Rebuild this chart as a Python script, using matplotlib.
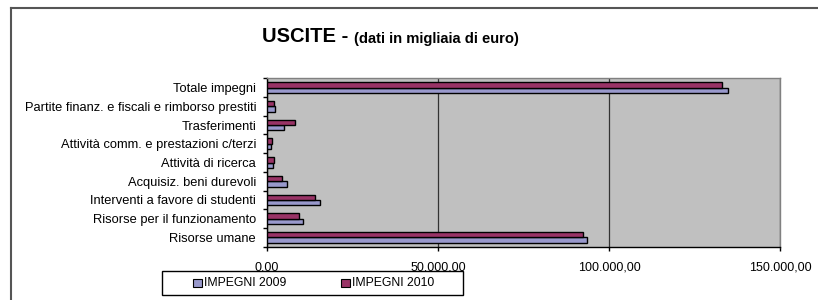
import matplotlib
matplotlib.use("Agg")
import matplotlib.pyplot as plt
from matplotlib.lines import Line2D
from matplotlib.patches import Rectangle
from matplotlib.ticker import FuncFormatter, FixedLocator
import numpy as np

plt.rcParams['font.family'] = ['Liberation Sans', 'DejaVu Sans']

categories = [
    "Risorse umane",
    "Risorse per il funzionamento",
    "Interventi a favore di studenti",
    "Acquisiz. beni durevoli",
    "Attività di ricerca",
    "Attività comm. e prestazioni c/terzi",
    "Trasferimenti",
    "Partite finanz. e fiscali e rimborso prestiti",
    "Totale impegni",
]
impegni_2009 = [93400, 10500, 15500, 5800, 1800, 1400, 5100, 2500, 134700]
impegni_2010 = [92400, 9400, 14000, 4400, 2000, 1500, 8400, 2100, 133000]
series_labels = ["IMPEGNI 2009", "IMPEGNI 2010"]
x_ticks = [0, 50000, 100000, 150000]

c2009 = "#9999CC"
c2010 = "#993366"

W, H = 818, 300
fig = plt.figure(figsize=(W / 100, H / 100), dpi=100)

def fx(px):
    return px / W

def fy(py):
    return 1 - py / H

# outer chart border (top and left visible)
fig.add_artist(Line2D([fx(11), 1.0], [fy(8), fy(8)], color="#555555", lw=1.5))
fig.add_artist(Line2D([fx(11), fx(11)], [0, fy(8)], color="#555555", lw=1.5))

ax = fig.add_axes([fx(266.7), fy(246.7), (780.3 - 266.7) / W, (246.7 - 78.3) / H])
ax.set_facecolor("#C0C0C0")

y = np.arange(len(categories))
bh = 0.285
ax.barh(y - bh / 2, impegni_2009, height=bh, color=c2009, edgecolor="black", linewidth=1.0, zorder=3)
ax.barh(y + bh / 2, impegni_2010, height=bh, color=c2010, edgecolor="black", linewidth=1.0, zorder=3)

ax.set_xlim(0, 150000)
ax.set_ylim(-0.5, len(categories) - 0.5)

ax.xaxis.set_major_locator(FixedLocator(x_ticks))
ax.xaxis.set_major_formatter(FuncFormatter(
    lambda v, p: f"{v:,.2f}".replace(",", "X").replace(".", ",").replace("X", ".")))
ax.grid(axis="x", color="#333333", lw=0.9, zorder=1)

ax.yaxis.set_major_locator(FixedLocator(np.arange(-0.5, len(categories), 1.0)))
ax.yaxis.set_major_formatter(FuncFormatter(lambda v, p: ""))
ax.yaxis.set_minor_locator(FixedLocator(y))
ax.set_yticklabels(categories, minor=True)
ax.tick_params(axis="y", which="minor", length=0, labelsize=9.3, pad=7.7)
ax.tick_params(axis="y", which="major", length=3, width=1, direction="out")
ax.tick_params(axis="x", length=3, width=1, direction="out", labelsize=9.0, pad=7.5)

for s in ["top", "right"]:
    ax.spines[s].set_color("#808080")
    ax.spines[s].set_linewidth(1.0)
for s in ["left", "bottom"]:
    ax.spines[s].set_color("black")
    ax.spines[s].set_linewidth(1.0)

# title
fig.text(fx(262), fy(42.5), "USCITE -", fontsize=14.5, fontweight="bold", va="baseline", ha="left")
fig.text(fx(354), fy(42.5), "(dati in migliaia di euro)", fontsize=10.6, fontweight="bold", va="baseline", ha="left")

# legend (drawn as a boxed key below the chart)
fig.add_artist(Rectangle((fx(162), fy(295)), (463 - 162) / W, (295 - 271) / H,
                         transform=fig.transFigure, facecolor="white", edgecolor="black", lw=1.0))
for xm, col, lab in [(193, c2009, series_labels[0]), (341, c2010, series_labels[1])]:
    fig.add_artist(Rectangle((fx(xm), fy(287)), 8.5 / W, 8.5 / H, transform=fig.transFigure,
                             facecolor=col, edgecolor="black", lw=0.8))
    fig.text(fx(xm + 10.5), fy(283), lab, fontsize=8.8, va="center", ha="left")

fig.savefig("out.png", dpi=100)
